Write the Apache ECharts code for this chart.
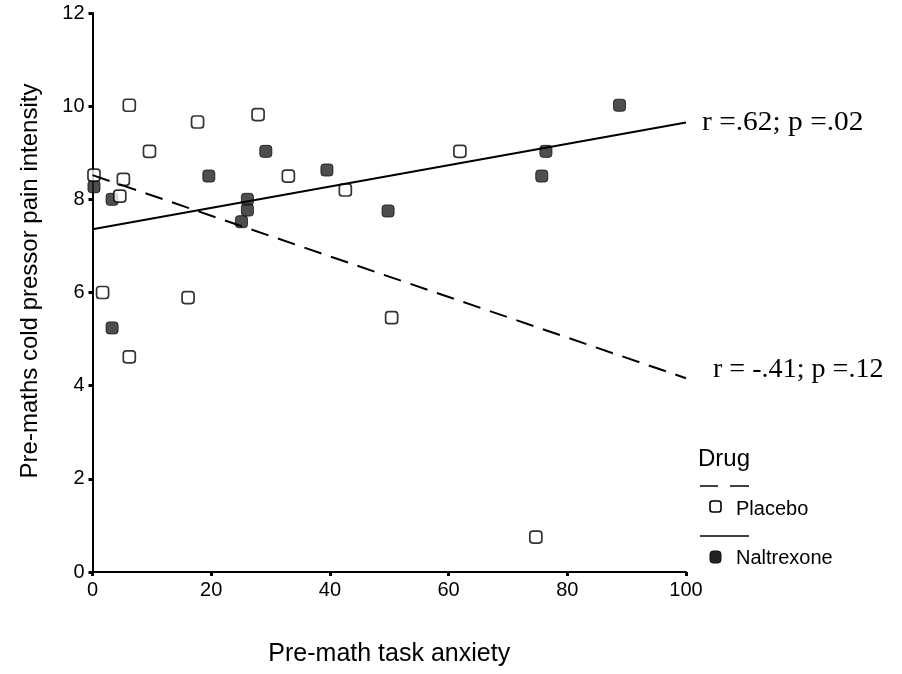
<!DOCTYPE html>
<html><head><meta charset="utf-8">
<script src="https://cdn.jsdelivr.net/npm/echarts@6/dist/echarts.min.js"></script>
<style>html,body{margin:0;padding:0;background:#fff}#c{width:902px;height:674px}</style>
</head><body><div id="c"></div>
<script>
// Data
const placebo = [[0.25,8.52],[1.7,6.0],[4.6,8.07],[5.2,8.43],[6.2,10.02],[6.2,4.62],[9.6,9.03],[16.1,5.89],[17.7,9.66],[27.9,9.82],[33.0,8.50],[42.6,8.2],[50.4,5.46],[61.9,9.03],[74.7,0.75]];
const naltrexone = [[0.25,8.27],[3.3,8.0],[3.3,5.24],[19.6,8.50],[25.1,7.52],[26.1,8.0],[26.1,7.77],[29.2,9.03],[39.5,8.63],[49.8,7.75],[75.7,8.50],[76.4,9.03],[88.8,10.02]];
const placeboFit = [[0,8.52],[100,4.16]];
const naltrexoneFit = [[0,7.36],[100,9.65]];
const xTicks = [0,20,40,60,80,100];
const yTicks = [0,2,4,6,8,10,12];
const placeboLabel = 'r = -.41; p =.12';
const naltrexoneLabel = 'r =.62; p =.02';
const xTitle = 'Pre-math task anxiety';
const yTitle = 'Pre-maths cold pressor pain intensity';
const legendTitle = 'Drug';
const groups = ['Placebo','Naltrexone'];

const chart = echarts.init(document.getElementById('c'), null, {renderer:'canvas'});
const sans = 'Liberation Sans, Arial, sans-serif';
const serif = 'Liberation Serif, Times New Roman, serif';
const sym = 'roundRect';

chart.setOption({
  animation:false,
  backgroundColor:'#fff',
  grid:{left:92.5, right:216, top:13, bottom:102, containLabel:false},
  xAxis:{type:'value', min:xTicks[0], max:xTicks[xTicks.length-1], interval:xTicks[1]-xTicks[0],
    name:xTitle, nameLocation:'middle', nameGap:70,
    nameTextStyle:{fontFamily:sans, fontSize:25, color:'#000'},
    axisLine:{show:true, onZero:false, lineStyle:{color:'#000', width:2}},
    axisTick:{show:true, length:4, lineStyle:{color:'#000', width:3}},
    axisLabel:{fontFamily:sans, fontSize:20, color:'#000', margin:8},
    splitLine:{show:false}},
  yAxis:{type:'value', min:yTicks[0], max:yTicks[yTicks.length-1], interval:yTicks[1]-yTicks[0],
    axisLine:{show:true, onZero:false, lineStyle:{color:'#000', width:2}},
    axisTick:{show:true, length:4, lineStyle:{color:'#000', width:3}},
    axisLabel:{fontFamily:sans, fontSize:20, color:'#000', margin:8},
    splitLine:{show:false}},
  series:[
    {name:groups[0], type:'scatter', data:placebo, symbol:sym, symbolSize:12, z:3,
      itemStyle:{color:'#fff', borderColor:'#000', borderWidth:1.7}},
    {name:groups[1], type:'scatter', data:naltrexone, symbol:sym, symbolSize:12, z:2,
      itemStyle:{color:'#222', borderColor:'#111', borderWidth:1}},
    {name:groups[0]+' fit', type:'line', data:placeboFit, symbol:'none', z:4,
      lineStyle:{color:'#000', width:2, type:[18,10]}},
    {name:groups[1]+' fit', type:'line', data:naltrexoneFit, symbol:'none', z:4,
      lineStyle:{color:'#000', width:2}}
  ],
  graphic:[
    {type:'text', x:30, y:281, rotation:Math.PI/2, style:{text:yTitle, font:'24px '+sans, fill:'#000', align:'center', verticalAlign:'middle'}},
    {type:'text', x:702, y:109, scaleX:1.09, style:{text:naltrexoneLabel, font:'27px '+serif, fill:'#000'}},
    {type:'text', x:713, y:356, scaleX:1.04, style:{text:placeboLabel, font:'27px '+serif, fill:'#000'}},
    {type:'text', x:698, y:447, style:{text:legendTitle, font:'24px '+sans, fill:'#000'}},
    {type:'line', shape:{x1:700,y1:486,x2:718,y2:486}, style:{stroke:'#000', lineWidth:1.5}},
    {type:'line', shape:{x1:730,y1:486,x2:749,y2:486}, style:{stroke:'#000', lineWidth:1.5}},
    {type:'rect', shape:{x:710,y:501,width:11,height:11,r:2.5}, style:{fill:'#fff', stroke:'#000', lineWidth:1.6}},
    {type:'text', x:736, y:499, style:{text:groups[0], font:'20px '+sans, fill:'#000'}},
    {type:'line', shape:{x1:700,y1:536,x2:749,y2:536}, style:{stroke:'#000', lineWidth:1.5}},
    {type:'rect', shape:{x:710,y:551,width:11,height:12,r:3}, style:{fill:'#222', stroke:'#111', lineWidth:1}},
    {type:'text', x:736, y:548, style:{text:groups[1], font:'20px '+sans, fill:'#000'}}
  ]
});
</script></body></html>
